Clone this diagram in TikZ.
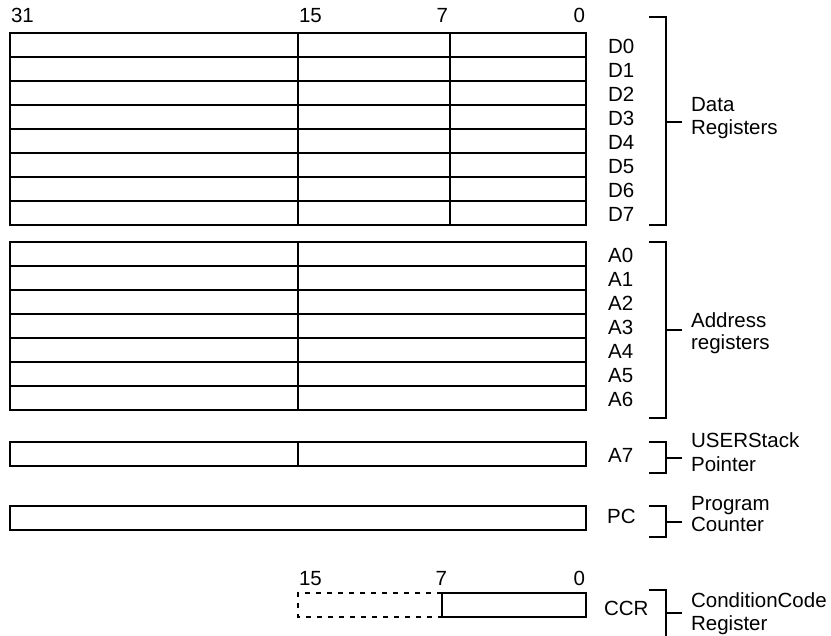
\documentclass[tikz,border=0pt]{standalone}
\usepackage{fontspec}
\setmainfont{Liberation Sans}
\begin{document}
\begin{tikzpicture}[x=1pt,y=-1pt,
  line width=2.2pt,
  txt/.style={inner sep=0pt, font=\fontsize{20.5}{24}\selectfont},
  lw/.style={txt, anchor=base west},
  le/.style={txt, anchor=base east},
  brk/.style={line width=2.2pt},
  dsh/.style={line width=1.8pt, dash pattern=on 5pt off 6pt}]
\useasboundingbox (0,0) rectangle (831,636);

% bit numbers (top)
\node[lw] (n31) at (10,23) {31};
\node[lw] (n15) at (298,23) {15};
\node[le] (n7) at (449,23) {7};
\node[le] (n0) at (586,23) {0};

% data registers
\draw (10,33) rectangle (586,225);
\foreach \i in {1,...,7} { \draw (10,33+24*\i) -- (586,33+24*\i); }
\draw (298,33) -- (298,225);
\draw (450,33) -- (450,225);
\foreach \i in {0,...,7} { \node[lw] (d\i) at (607,54+24*\i) {D\i}; }

% address registers
\draw (10,242) rectangle (586,410);
\foreach \i in {1,...,6} { \draw (10,242+24*\i) -- (586,242+24*\i); }
\draw (298,242) -- (298,410);
\foreach \i in {0,...,6} { \node[lw] (a\i) at (607,263+24*\i) {A\i}; }

% A7
\draw (10,442) rectangle (586,466);
\draw (298,442) -- (298,466);
\node[lw] (a7) at (607,463) {A7};

% PC
\draw (10,506) rectangle (586,530);
\node[lw] (pc) at (606,524) {PC};

% CCR
\node[lw] (b15) at (298,585) {15};
\node[le] (b7) at (448,585) {7};
\node[le] (b0) at (586,585) {0};
\draw[dsh] (442,593) -- (298,593) -- (298,617) -- (442,617);
\draw (442,593) rectangle (586,617);
\node[lw] (ccr) at (603,615) {CCR};

% brackets and group labels
\node[lw] (gd1) at (690,112) {Data};
\node[lw] (gd2) at (690,135) {Registers};
\draw[brk] (649,17) -- (666,17) -- (666,225) -- (649,225);
\draw[brk] (666,122) -- (682,122);

\node[lw] (ga1) at (690,328) {Address};
\node[lw] (ga2) at (690,350) {registers};
\draw[brk] (649,242) -- (666,242) -- (666,418) -- (649,418);
\draw[brk] (666,330) -- (682,330);

\node[lw] (gu1) at (690,448) {USERStack};
\node[lw] (gu2) at (690,472) {Pointer};
\draw[brk] (649,442) -- (666,442) -- (666,473) -- (649,473);
\draw[brk] (666,458) -- (682,458);

\node[lw] (gp1) at (690,511) {Program};
\node[lw] (gp2) at (690,532) {Counter};
\draw[brk] (649,506) -- (666,506) -- (666,537) -- (649,537);
\draw[brk] (666,522) -- (682,522);

\node[lw] (gc1) at (690,607) {ConditionCode};
\node[lw] (gc2) at (690,630) {Register};
\draw[brk] (649,590) -- (666,590) -- (666,636);
\draw[brk] (666,613) -- (682,613);
\end{tikzpicture}
\end{document}
